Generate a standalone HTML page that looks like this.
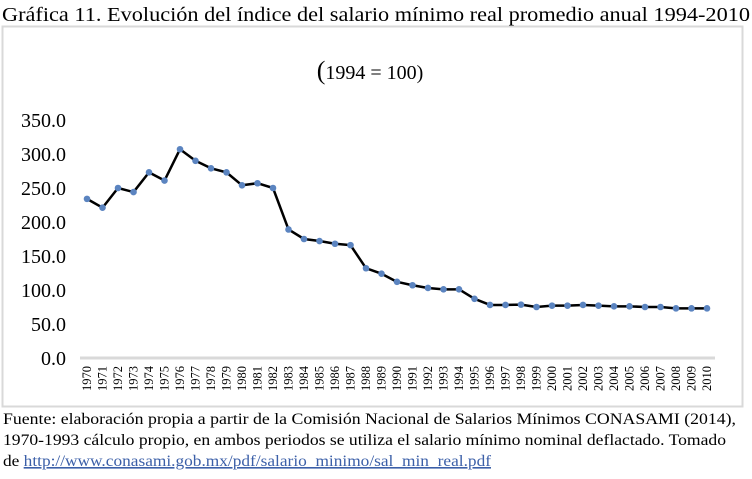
<!DOCTYPE html>
<html><head><meta charset="utf-8"><style>
html,body{margin:0;padding:0;background:#fff;}
svg{display:block;font-family:"Liberation Serif",serif;}
</style></head><body>
<svg id="chart" width="752" height="479" viewBox="0 0 752 479">
<text x="2" y="21" font-size="20" textLength="748" lengthAdjust="spacingAndGlyphs">Gráfica 11. Evolución del índice del salario mínimo real promedio anual 1994-2010</text>
<rect x="2.5" y="26.5" width="740" height="380" fill="#fff" stroke="#d9d9d9" stroke-width="2"/>
<text x="370" y="79" font-size="20" text-anchor="middle"><tspan font-size="26">(</tspan>1994 = 100)</text>
<g id="yaxis"></g>
<g id="xaxis"></g>
<g id="series"></g>
<text x="3" y="424" font-size="16" textLength="733" lengthAdjust="spacingAndGlyphs">Fuente: elaboración propia a partir de la Comisión Nacional de Salarios Mínimos CONASAMI (2014),</text>
<text x="3" y="445" font-size="16" textLength="723" lengthAdjust="spacingAndGlyphs">1970-1993 cálculo propio, en ambos periodos se utiliza el salario mínimo nominal deflactado. Tomado</text>
<text x="3" y="466" font-size="16" textLength="488" lengthAdjust="spacingAndGlyphs">de <tspan fill="#3b5fa8" text-decoration="underline">http://www.conasami.gob.mx/pdf/salario_minimo/sal_min_real.pdf</tspan></text>
</svg>
<script>
const years = [];
for (let y = 1970; y <= 2010; y++) years.push(String(y));
const values = [234,221,250,244,273,261,307,290,279,273,254,257,250,189,175,172,168,166,132,124,112,107,103,101,101,87,78,78,78.5,75,77,77,78,77,76,76,75,75,73,73,73];
const yTicks = [0,50,100,150,200,250,300,350];
const yTickLabels = ["0.0","50.0","100.0","150.0","200.0","250.0","300.0","350.0"];

const NS = "http://www.w3.org/2000/svg";
const x0 = 87, xStep = 15.5, yBase = 358, yScale = 238/350;
function xPos(i){ return x0 + i * xStep; }
function yPos(v){ return yBase - v * yScale; }
function mk(tag, attrs, parent){
  const e = document.createElementNS(NS, tag);
  for (const k in attrs) e.setAttribute(k, attrs[k]);
  parent.appendChild(e);
  return e;
}
const ya = document.getElementById('yaxis');
yTicks.forEach((t, i) => {
  const el = mk('text', {x: 66, y: yPos(t) + 7, 'font-size': 20, 'text-anchor': 'end', fill: '#000'}, ya);
  
  
  el.textContent = yTickLabels[i];
});
const xa = document.getElementById('xaxis');
const ax = mk('line', {x1: 80, x2: 715, y1: yBase, y2: yBase, stroke: '#d9d9d9', 'stroke-width': 3}, xa);


years.forEach((yr, i) => {
  const xx = xPos(i) + 4;
  const el = mk('text', {x: 0, y: 0, 'font-size': 12.5, 'text-anchor': 'end', transform: `translate(${xx},366) rotate(-90)`}, xa);
  
  
  el.textContent = yr;
});
const sg = document.getElementById('series');
const pts = values.map((v, i) => xPos(i) + ',' + yPos(v)).join(' ');
const line = mk('polyline', {points: pts, fill: 'none', stroke: '#000', 'stroke-width': 2.5, 'stroke-linejoin': 'round'}, sg);


values.forEach((v, i) => {
  const c = mk('circle', {cx: xPos(i), cy: yPos(v), r: 3.3, fill: '#5b84c0'}, sg);
  
  
});
</script>
</body></html>
